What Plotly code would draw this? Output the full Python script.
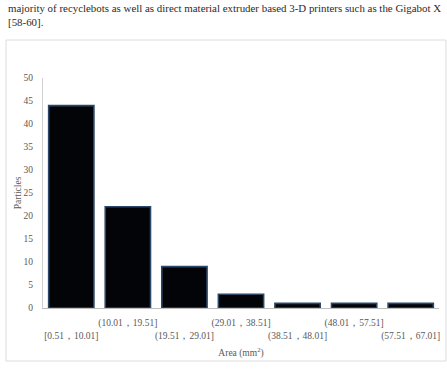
import plotly.graph_objects as go

categories = ["[0.51，10.01]", "(10.01，19.51]", "(19.51，29.01]", "(29.01，38.51]",
              "(38.51，48.01]", "(48.01，57.51]", "(57.51，67.01]"]
particles = [44, 22, 9, 3, 1, 1, 1]
tick_labels = [("<br>" + c if i % 2 == 0 else c + "<br> ") for i, c in enumerate(categories)]

W, H = 447, 374
L, R, T, B = 43, 8, 78, 66

fig = go.Figure(go.Bar(
    x=categories, y=particles,
    marker=dict(color="#020408", line=dict(color="#2b4868", width=1.6)),
))

def px_x(p):
    return (p - L) / (W - L - R)

def px_y(p):
    return 1 - (p - T) / (H - T - B)

serif = "Liberation Serif, Times New Roman, serif"
fig.update_layout(
    width=W, height=H,
    margin=dict(l=L, r=R, t=T, b=B),
    paper_bgcolor="white", plot_bgcolor="white",
    bargap=0.2,
    showlegend=False,
    font=dict(family=serif, size=9, color="#595959"),
    xaxis=dict(
        tickmode="array", tickvals=categories, ticktext=tick_labels,
        showline=True, linecolor="#bfbfbf", linewidth=1, ticks="", showgrid=False,
        tickangle=0, tickfont=dict(size=9.5, color="#595959"), ticklabelstandoff=6,
        title=dict(text="Area (mm<sup>2</sup>)", font=dict(size=9.5, color="#595959"), standoff=8),
    ),
    yaxis=dict(
        range=[0, 50], dtick=5, showline=True, linecolor="#d0d0d0", linewidth=1,
        ticks="", showgrid=False, zeroline=False, ticklabelstandoff=7,
        tickfont=dict(size=9.5, color="#595959"),
        title=dict(text="Particles", font=dict(size=9.5, color="#595959"), standoff=0),
    ),
    shapes=[dict(type="rect", xref="paper", yref="paper",
                 x0=px_x(6), x1=px_x(446), y0=px_y(361), y1=px_y(40),
                 line=dict(color="#dcdcdc", width=1), layer="below")],
    annotations=[
        dict(text="majority of recyclebots as well as direct material extruder based 3-D printers such as the Gigabot X",
             xref="paper", yref="paper", x=px_x(6), y=px_y(8), xanchor="left", yanchor="middle",
             showarrow=False, font=dict(family="Liberation Serif, serif", size=10.9, color="#2a2a2a")),
        dict(text="[58-60].",
             xref="paper", yref="paper", x=px_x(6), y=px_y(22), xanchor="left", yanchor="middle",
             showarrow=False, font=dict(family="Liberation Serif, serif", size=10.9, color="#2a2a2a")),
    ],
)

fig.write_html("out.html")
